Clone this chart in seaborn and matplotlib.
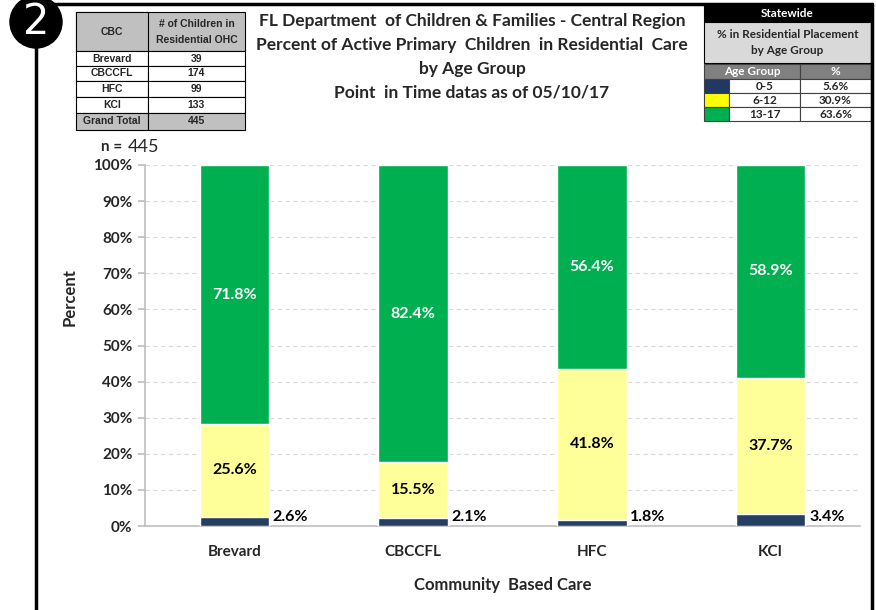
import matplotlib
matplotlib.use("Agg")
import matplotlib.pyplot as plt
from matplotlib.patches import Rectangle, Circle
from matplotlib.lines import Line2D
import seaborn as sns
import pandas as pd
import numpy as np

# ---------------- data ----------------
cbc = ["Brevard", "CBCCFL", "HFC", "KCI"]
children = [39, 174, 99, 133]
grand_total = 445
pct_0_5 = [2.6, 2.1, 1.8, 3.4]
pct_6_12 = [25.6, 15.5, 41.8, 37.7]
pct_13_17 = [71.8, 82.4, 56.4, 58.9]
age_groups = ["0-5", "6-12", "13-17"]
statewide_pct = [5.6, 30.9, 63.6]
yticks = list(range(0, 101, 10))

title_lines = ["FL Department  of Children & Families - Central Region",
               "Percent of Active Primary  Children  in Residential  Care",
               "by Age Group",
               "Point  in Time datas as of 05/10/17"]

# ---------------- style ----------------
sns.set_theme(style="white")
plt.rcParams["font.family"] = ["Lato", "DejaVu Sans"]
plt.rcParams["font.weight"] = "bold"

C_DARK = "#243F60"
C_YEL = "#FFFF99"
C_GRN = "#00B050"

W, H = 876, 610
fig = plt.figure(figsize=(W / 100, H / 100), dpi=100)

def fx(x):
    return x / W

def fy(y):
    return 1 - y / H

def rect(x0, y0, x1, y1, fc, ec="black", lw=0.8):
    fig.add_artist(Rectangle((fx(x0), fy(y1)), (x1 - x0) / W, (y1 - y0) / H,
                             transform=fig.transFigure, fc=fc, ec=ec, lw=lw))

def txt(x, y, s, ha="center", **kw):
    fig.text(fx(x), fy(y), s, ha=ha, va="center", **kw)

# ---------------- axes ----------------
ax = fig.add_axes([fx(145), fy(526), (860 - 145) / W, (526 - 165) / H])

df = pd.DataFrame({
    "cbc": cbc,
    "top": np.array(pct_0_5) + np.array(pct_6_12) + np.array(pct_13_17),
    "mid": np.array(pct_0_5) + np.array(pct_6_12),
    "low": pct_0_5,
})
bw = 0.39
sns.barplot(data=df, x="cbc", y="top", order=cbc, color=C_GRN, width=bw,
            saturation=1, ax=ax, zorder=3)
sns.barplot(data=df, x="cbc", y="mid", order=cbc, color=C_YEL, width=bw,
            saturation=1, ax=ax, zorder=3)
sns.barplot(data=df, x="cbc", y="low", order=cbc, color=C_DARK, width=bw,
            saturation=1, ax=ax, zorder=3)

for i in range(len(cbc)):
    lo, mid, top = pct_0_5[i], df["mid"][i], df["top"][i]
    ax.text(i, (mid + top) / 2, f"{pct_13_17[i]:.1f}%", ha="center", va="center",
            color="white", fontsize=11.5, fontweight="bold", zorder=4)
    ax.text(i, (lo + mid) / 2, f"{pct_6_12[i]:.1f}%", ha="center", va="center",
            color="black", fontsize=11.5, fontweight="bold", zorder=4)
    ax.text(i + bw / 2 + 0.02, 2.5, f"{lo:.1f}%", ha="left", va="center",
            color="black", fontsize=11.5, fontweight="bold", zorder=4)

ax.set_xlim(-0.5, 3.5)
ax.set_ylim(0, 100)
ax.set_yticks(yticks)
ax.set_yticklabels([f"{v}%" for v in yticks], fontsize=11, fontweight="bold")
ax.yaxis.grid(True, linestyle=(0, (4, 3)), color="#D9D9D9", lw=0.8, zorder=0)
ax.set_xticks(range(len(cbc)))
ax.set_xticklabels(cbc, fontsize=11, fontweight="bold")
ax.set_xticks([0.5, 1.5, 2.5, 3.5], minor=True)
ax.tick_params(axis="x", which="major", length=0, pad=14)
ax.tick_params(axis="x", which="minor", length=5, color="#BFBFBF", direction="out")
ax.tick_params(axis="y", length=5, color="#BFBFBF", direction="out", left=True, pad=4)
for s in ["top", "right"]:
    ax.spines[s].set_visible(False)
for s in ["left", "bottom"]:
    ax.spines[s].set_color("#BFBFBF")
    ax.spines[s].set_linewidth(1.2)
ax.set_xlabel("Community  Based Care", fontsize=12, fontweight="bold")
ax.set_ylabel("Percent", fontsize=12, fontweight="bold")
ax.xaxis.set_label_coords((503 - 145) / 715, (526 - 585) / 361)
ax.yaxis.set_label_coords((70 - 145) / 715, (526 - 297) / 361)
ax.yaxis.label.set_va("center")
ax.xaxis.label.set_va("center")

# ---------------- frame & badge ----------------
fig.add_artist(Line2D([fx(40), fx(872)], [fy(4), fy(4)], transform=fig.transFigure,
                      color="black", lw=2.5))
fig.add_artist(Line2D([fx(872), fx(872)], [fy(4), fy(610)], transform=fig.transFigure,
                      color="black", lw=2.5))
fig.add_artist(Line2D([fx(36), fx(36)], [fy(40), fy(610)], transform=fig.transFigure,
                      color="black", lw=2.5))
badge = Circle((36 / 100, (H - 22) / 100), 26 / 100, transform=fig.dpi_scale_trans,
               fc="black", ec="black")
fig.add_artist(badge)
txt(36, 22, "2", color="white", fontsize=30, fontweight="normal",
    family=["DejaVu Sans"])

# ---------------- title ----------------
for k, line in enumerate(title_lines):
    txt(472, 21 + k * 24, line, fontsize=12.5, fontweight="bold")

txt(101, 147, "n =", ha="left", fontsize=11, fontweight="bold")
txt(128, 147, f"{grand_total}", ha="left", fontsize=13, fontweight="normal")

# ---------------- CBC table ----------------
tf = ["Liberation Sans", "DejaVu Sans"]
xL, xM, xR = 76, 148, 245
rect(xL, 12, xR, 51, "#C0C0C0")
rect(xL, 12, xM, 51, "#C0C0C0")
txt((xL + xM) / 2, 32, "CBC", fontsize=7.5, fontweight="bold", family=tf)
txt((xM + xR) / 2, 24, "# of Children in", fontsize=7.5, fontweight="bold", family=tf)
txt((xM + xR) / 2, 40, "Residential OHC", fontsize=7.5, fontweight="bold", family=tf)
rows_y = [51, 66, 81, 97, 113]
for i, name in enumerate(cbc):
    y0 = rows_y[i]
    y1 = rows_y[i + 1] if i + 1 < len(rows_y) else 113
    rect(xL, y0, xM, y1, "white")
    rect(xM, y0, xR, y1, "white")
    txt((xL + xM) / 2, (y0 + y1) / 2, name, fontsize=7.5, fontweight="bold", family=tf)
    txt((xM + xR) / 2, (y0 + y1) / 2, str(children[i]), fontsize=7.5,
        fontweight="bold", family=tf)
rect(xL, 113, xM, 130, "#C0C0C0")
rect(xM, 113, xR, 130, "#C0C0C0")
txt((xL + xM) / 2, 121.5, "Grand Total", fontsize=7.5, fontweight="bold", family=tf)
txt((xM + xR) / 2, 121.5, str(grand_total), fontsize=7.5, fontweight="bold", family=tf)

# ---------------- Statewide table ----------------
sL, sS, sM, sR = 704, 729, 800, 871
rect(sL, 5, sR, 22, "black")
txt((sL + sR) / 2, 13.5, "Statewide", color="white", fontsize=8.5, fontweight="bold")
rect(sL, 22, sR, 63, "#D9D9D9")
txt((sL + sR) / 2, 35, "% in Residential Placement", fontsize=8.5, fontweight="bold")
txt((sL + sR) / 2, 51, "by Age Group", fontsize=8.5, fontweight="bold")
rect(sL, 64, sM, 79, "#808080", ec="#404040")
rect(sM, 64, sR, 79, "#808080", ec="#404040")
txt((sL + sM) / 2, 71.5, "Age Group", color="white", fontsize=8.5, fontweight="bold")
txt((sM + sR) / 2, 71.5, "%", color="white", fontsize=8.5, fontweight="bold")
sw_colors = ["#1F3864", "#FFFF00", "#00B050"]
srow = [79, 93, 107, 121]
for i, g in enumerate(age_groups):
    y0, y1 = srow[i], srow[i + 1]
    rect(sL, y0, sS, y1, sw_colors[i], ec="#404040")
    rect(sS, y0, sM, y1, "white", ec="#404040")
    rect(sM, y0, sR, y1, "white", ec="#404040")
    txt((sS + sM) / 2, (y0 + y1) / 2, g, fontsize=8.5, fontweight="bold")
    txt((sM + sR) / 2, (y0 + y1) / 2, f"{statewide_pct[i]:.1f}%", fontsize=8.5,
        fontweight="bold")

fig.savefig("out.png", dpi=100)
